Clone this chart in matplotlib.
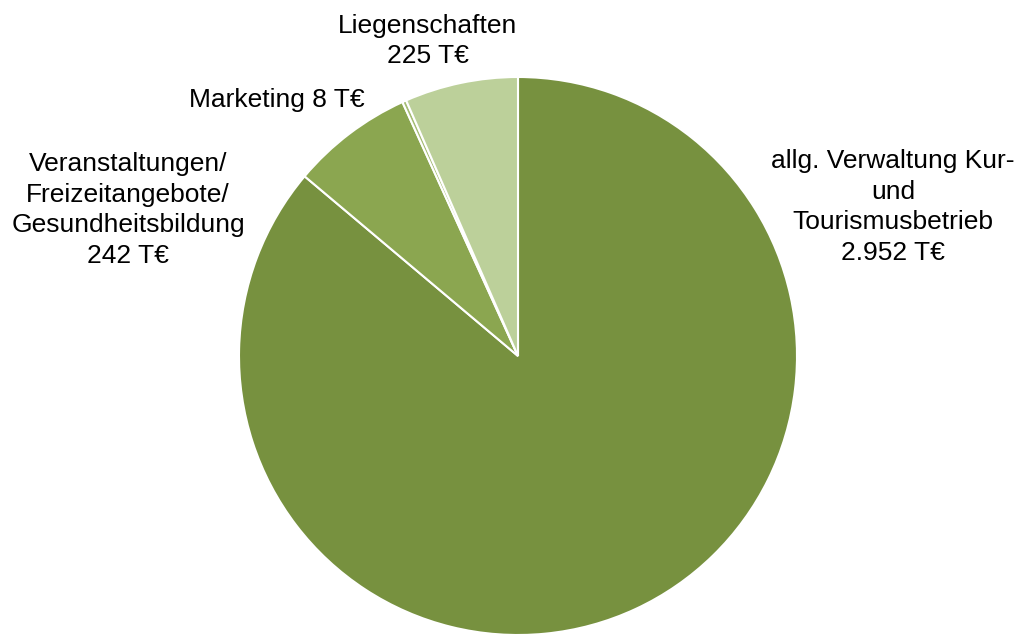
import matplotlib.pyplot as plt

plt.rcParams["font.family"] = ["Liberation Sans", "DejaVu Sans"]

categories = [
    "allg. Verwaltung Kur-\nund\nTourismusbetrieb",
    "Veranstaltungen/\nFreizeitangebote/\nGesundheitsbildung",
    "Marketing",
    "Liegenschaften",
]
values = [2952, 242, 8, 225]
value_labels = ["2.952 T€", "242 T€", "8 T€", "225 T€"]
colors = ["#77913F", "#8BA650", "#A5BC74", "#BCD09A"]

W, H = 1015, 636
fig = plt.figure(figsize=(W / 100, H / 100), dpi=100)

cx, cy, r = 518, 356, 279
ax = fig.add_axes([(cx - r) / W, (H - cy - r) / H, 2 * r / W, 2 * r / H])
ax.pie(values, colors=colors, startangle=90, counterclock=False,
       wedgeprops=dict(edgecolor="white", linewidth=1.5))
ax.set_xlim(-1, 1)
ax.set_ylim(-1, 1)
ax.set_aspect("equal")
ax.axis("off")

# label anchor points (pixel centres)
label_pos = [(893, 207), (128, 210), (277, 100), (428, 41)]
for cat, val, (px, py) in zip(categories, value_labels, label_pos):
    if cat == "Marketing":
        txt = f"{cat} {val}"
    else:
        txt = f"{cat}\n{val}"
    fig.text(px / W, 1 - py / H, txt, ha="center", va="center",
             fontsize=19, linespacing=1.34, color="black")

fig.savefig("out.png", dpi=100)
